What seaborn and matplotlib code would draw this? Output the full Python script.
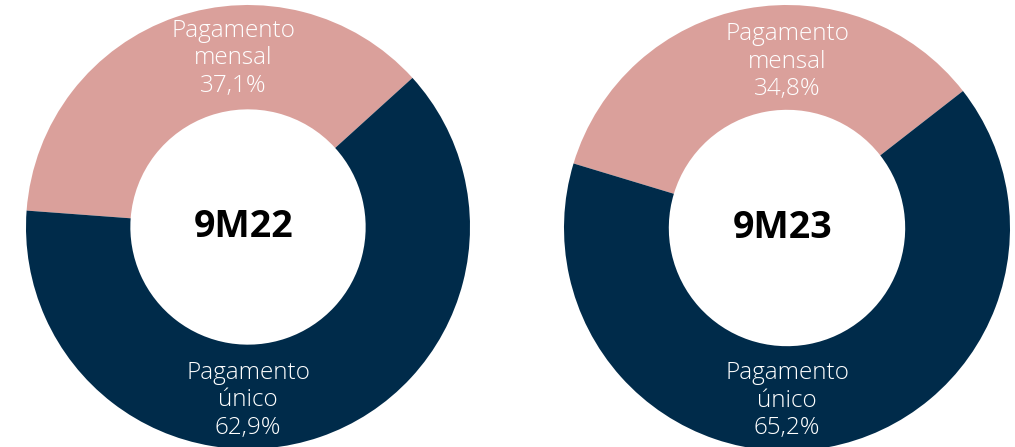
import matplotlib
matplotlib.use("Agg")
import matplotlib.pyplot as plt
import seaborn as sns

sns.set_theme(style="white")
plt.rcParams['font.family'] = ['Open Sans', 'DejaVu Sans']

periods = ["9M22", "9M23"]
categories = ["Pagamento\nmensal", "Pagamento\núnico"]
mensal = [37.1, 34.8]
unico = [62.9, 65.2]
colors = sns.color_palette(["#DAA09B", "#002B4A"])
start_angles = [42.2, 37.9]

W, H = 1015, 447
fig = plt.figure(figsize=(W / 100, H / 100), dpi=100)
fig.patch.set_facecolor("white")

# (center x, center y from top, radius) in pixels
geoms = [(248, 227, 222), (787, 228, 223)]
label_pos = [[(-0.065, 0.76), (0.0, -0.78)], [(0.0, 0.745), (0.0, -0.775)]]

for i, (cx, cy, r) in enumerate(geoms):
    ax = fig.add_axes([(cx - r) / W, (H - cy - r) / H, 2 * r / W, 2 * r / H])
    vals = [mensal[i], unico[i]]
    ax.pie(vals, colors=colors, startangle=start_angles[i], counterclock=True,
           radius=1.0, wedgeprops=dict(width=0.47, edgecolor="none"))
    ax.set_xlim(-1, 1)
    ax.set_ylim(-1, 1)
    ax.set_aspect("equal")
    ax.axis("off")
    for j, v in enumerate(vals):
        txt = f"{categories[j]}\n{v:.1f}%".replace(".", ",")
        x, y = label_pos[i][j]
        ax.text(x, y, txt, ha="center", va="center", color="white",
                fontsize=17.5, fontweight="light", linespacing=1.2)
    ax.text(-0.02, 0.0, periods[i], ha="center", va="center", color="black",
            fontsize=27, fontweight="bold")

fig.savefig("out.png", dpi=100, facecolor="white")
